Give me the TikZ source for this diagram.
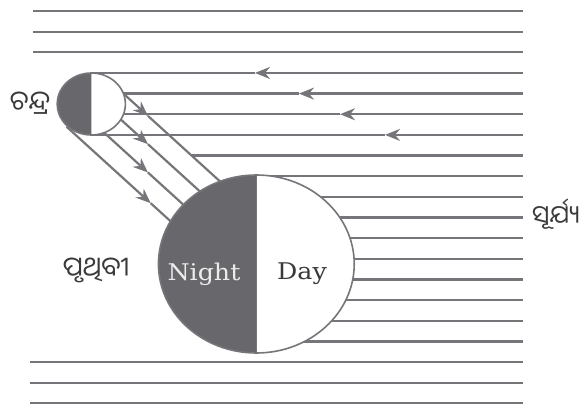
\documentclass[tikz,border=0pt]{standalone}
\usepackage{fontspec}
\newfontfamily\oriya[Script=Oriya]{Noto Sans Oriya UI}
\newfontfamily\sidefont{DejaVu Serif}
\usetikzlibrary{arrows.meta}
\definecolor{raygray}{RGB}{118,118,122}
\definecolor{shadow}{RGB}{104,104,108}
\definecolor{inkgray}{RGB}{58,58,60}
\tikzset{
  ray/.style={draw=raygray, line width=2.2pt},
  tipped/.style={-{Stealth[length=15pt, width=12pt, inset=5pt]}},
  rim/.style={draw=raygray, line width=1.6pt},
  word/.style={text=inkgray, inner sep=1pt, font=\oriya\fontsize{27}{30}\selectfont},
  side/.style={font=\sidefont\fontsize{23}{27}\selectfont, xscale=1.1}
}
\begin{document}
\begin{tikzpicture}[x=1pt, y=-1pt]
\useasboundingbox (0,0) rectangle (581,406);
\begin{scope}[xscale=1.1]
\coordinate (moon) at (83,104);
\coordinate (earth) at (233,264);
% rays passing above the moon
\draw[ray] (30,11) -- (475.5,11);
\draw[ray] (30,31.65) -- (475.5,31.65);
\draw[ray] (30,52.3) -- (475.5,52.3);
% rays reaching the moon
\draw[ray] (83,72.95) -- (231.8,72.95);
\draw[ray, tipped] (475.5,72.95) -- (231.8,72.95);
\draw[ray] (83,93.6) -- (271.8,93.6);
\draw[ray, tipped] (475.5,93.6) -- (271.8,93.6);
\draw[ray] (83,114.25) -- (309.1,114.25);
\draw[ray, tipped] (475.5,114.25) -- (309.1,114.25);
\draw[ray] (83,134.9) -- (350,134.9);
\draw[ray, tipped] (475.5,134.9) -- (350,134.9);
% light sent on from the moon to the earth
\draw[ray, tipped] (102.8,84.2) -- (134.5,115.9);
\draw[ray] (134.5,115.9) -- (208.9,190.3);
\draw[ray, tipped] (88.66,98.34) -- (134.5,144.18);
\draw[ray] (134.5,144.18) -- (194.7,204.4);
\draw[ray, tipped] (74.5,112.5) -- (134.5,172.5);
\draw[ray] (134.5,172.5) -- (180.6,218.6);
\draw[ray, tipped] (60.4,126.6) -- (137,203.2);
\draw[ray] (137,203.2) -- (166.5,232.7);
\draw[ray] (174.15,155.55) -- (475.5,155.55);
% rays reaching the day side
\draw[ray] (233,176.2) -- (475.5,176.2);
\draw[ray] (233,196.85) -- (475.5,196.85);
\draw[ray] (233,217.5) -- (475.5,217.5);
\draw[ray] (233,238.15) -- (475.5,238.15);
\draw[ray] (233,258.8) -- (475.5,258.8);
\draw[ray] (233,279.45) -- (475.5,279.45);
\draw[ray] (233,300.1) -- (475.5,300.1);
\draw[ray] (233,320.75) -- (475.5,320.75);
\draw[ray] (233,341.4) -- (475.5,341.4);
% rays passing below the earth
\draw[ray] (27.3,362.05) -- (475.5,362.05);
\draw[ray] (27.3,382.7) -- (475.5,382.7);
\draw[ray] (27.3,403.35) -- (475.5,403.35);
% moon, dark half away from the sun
\fill[white] (moon) circle (31);
\fill[shadow] (moon) -- ++(0,-31) arc[start angle=270, end angle=90, radius=31] -- cycle;
\draw[rim] (moon) circle (31);
% earth
\fill[white] (earth) circle (89);
\fill[shadow] (earth) -- ++(0,-89) arc[start angle=270, end angle=90, radius=89] -- cycle;
\draw[rim] (earth) circle (89);
\draw[rim] (earth) ++(0,-89) -- ++(0,178);
\end{scope}
\node[word] (chandra) at (30,103) {ଚନ୍ଦ୍ର};
\node[word] (prithibi) at (96,270) {ପୃଥିବୀ};
\node[word, font=\oriya\fontsize{25}{28}\selectfont] (surjya) at (556,214) {ସୂର୍ଯ୍ୟ};
\node[side, text=white!92!black] (night) at (204,274) {Night};
\node[side, text=inkgray] (day) at (302,274) {Day};
\end{tikzpicture}
\end{document}
